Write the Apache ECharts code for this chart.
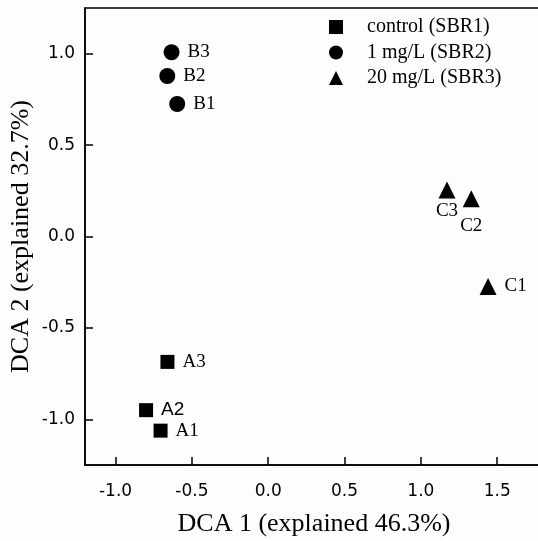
<!DOCTYPE html>
<html>
<head>
<meta charset="utf-8">
<script src="https://cdn.jsdelivr.net/npm/echarts@6/dist/echarts.min.js"></script>
<style>
  html, body { margin: 0; padding: 0; background: #fcfefe; }
  #chart { width: 538px; height: 541px; }
</style>
</head>
<body>
<div id="chart"></div>
<script>
// DCA sample scores
const sbr1Names = ['A1', 'A2', 'A3'];
const sbr1X = [-0.705, -0.80, -0.66];
const sbr1Y = [-1.062, -0.95, -0.686];

const sbr2Names = ['B1', 'B2', 'B3'];
const sbr2X = [-0.596, -0.661, -0.633];
const sbr2Y = [0.725, 0.878, 1.008];

const sbr3Names = ['C1', 'C2', 'C3'];
const sbr3X = [1.44, 1.33, 1.171];
const sbr3Y = [-0.273, 0.206, 0.255];

const seriesNames = ['control (SBR1)', '1 mg/L (SBR2)', '20 mg/L (SBR3)'];

const xTicks = [-1.0, -0.5, 0.0, 0.5, 1.0, 1.5];
const yTicks = [-1.0, -0.5, 0.0, 0.5, 1.0];

const serif = '"Liberation Serif", "Times New Roman", serif';
const sans = '"Liberation Sans", Arial, sans-serif';
const tickFont = '"DejaVu Sans", Arial, sans-serif';

// C2/C3 get their labels underneath, the rest to the right
const belowGap = { C2: 9, C3: 3 };

const buildData = (names, xs, ys) => names.map((n, i) => {
  const item = { value: [xs[i], ys[i]], name: n };
  if (belowGap[n] !== undefined) {
    item.label = { position: 'bottom', distance: belowGap[n] };
  }
  if (n === 'A2') {
    item.label = { fontFamily: sans };
  }
  return item;
});

const makeSeries = (name, symbol, size, data) => ({
  name: name,
  type: 'scatter',
  symbol: symbol,
  symbolSize: size,
  itemStyle: { color: '#000', opacity: 1 },
  data: data,
  label: {
    show: true,
    position: 'right',
    distance: 8,
    formatter: p => p.name,
    color: '#000',
    fontFamily: serif,
    fontSize: 19
  },
  emphasis: { disabled: true }
});

const chart = echarts.init(document.getElementById('chart'));

const option = {
  backgroundColor: '#fcfefe',
  animation: false,
  grid: {
    left: 85,
    top: 8,
    right: -5,
    bottom: 76,
    outerBoundsMode: 'none',
    show: true,
    borderColor: '#000',
    borderWidth: 1.5,
    backgroundColor: 'transparent'
  },
  legend: {
    orient: 'vertical',
    left: 324,
    top: 12,
    itemWidth: 14,
    itemHeight: 14,
    itemGap: 5.5,
    data: seriesNames,
    itemStyle: { opacity: 1 },
    textStyle: {
      color: '#000',
      fontFamily: serif,
      fontSize: 20,
      padding: [0, 0, 0, 19]
    }
  },
  xAxis: {
    type: 'value',
    min: -1.2,
    max: 1.8,
    name: 'DCA 1 (explained 46.3%)',
    nameLocation: 'middle',
    nameGap: 46,
    nameTextStyle: { color: '#000', fontFamily: serif, fontSize: 26 },
    axisLine: { show: true, onZero: false, lineStyle: { color: '#000', width: 1.5 } },
    axisTick: {
      show: true, inside: true, length: 8,
      customValues: xTicks,
      lineStyle: { color: '#000', width: 1.5 }
    },
    axisLabel: {
      customValues: xTicks,
      margin: 18,
      color: '#000',
      fontFamily: tickFont,
      fontSize: 17,
      formatter: v => v.toFixed(1)
    },
    splitLine: { show: false }
  },
  yAxis: {
    type: 'value',
    min: -1.25,
    max: 1.25,
    name: 'DCA 2 (explained 32.7%)',
    nameLocation: 'middle',
    nameGap: 51,
    nameMoveOverlap: false,
    nameTextStyle: { color: '#000', fontFamily: serif, fontSize: 26 },
    axisLine: { show: true, onZero: false, lineStyle: { color: '#000', width: 1.5 } },
    axisTick: {
      show: true, inside: true, length: 8,
      customValues: yTicks,
      lineStyle: { color: '#000', width: 1.5 }
    },
    axisLabel: {
      customValues: yTicks,
      margin: 10,
      color: '#000',
      fontFamily: tickFont,
      fontSize: 17,
      formatter: v => v.toFixed(1)
    },
    splitLine: { show: false }
  },
  series: [
    makeSeries(seriesNames[0], 'rect', 14, buildData(sbr1Names, sbr1X, sbr1Y)),
    makeSeries(seriesNames[1], 'circle', 16, buildData(sbr2Names, sbr2X, sbr2Y)),
    makeSeries(seriesNames[2], 'triangle', 17, buildData(sbr3Names, sbr3X, sbr3Y))
  ]
};

chart.setOption(option);
</script>
</body>
</html>
